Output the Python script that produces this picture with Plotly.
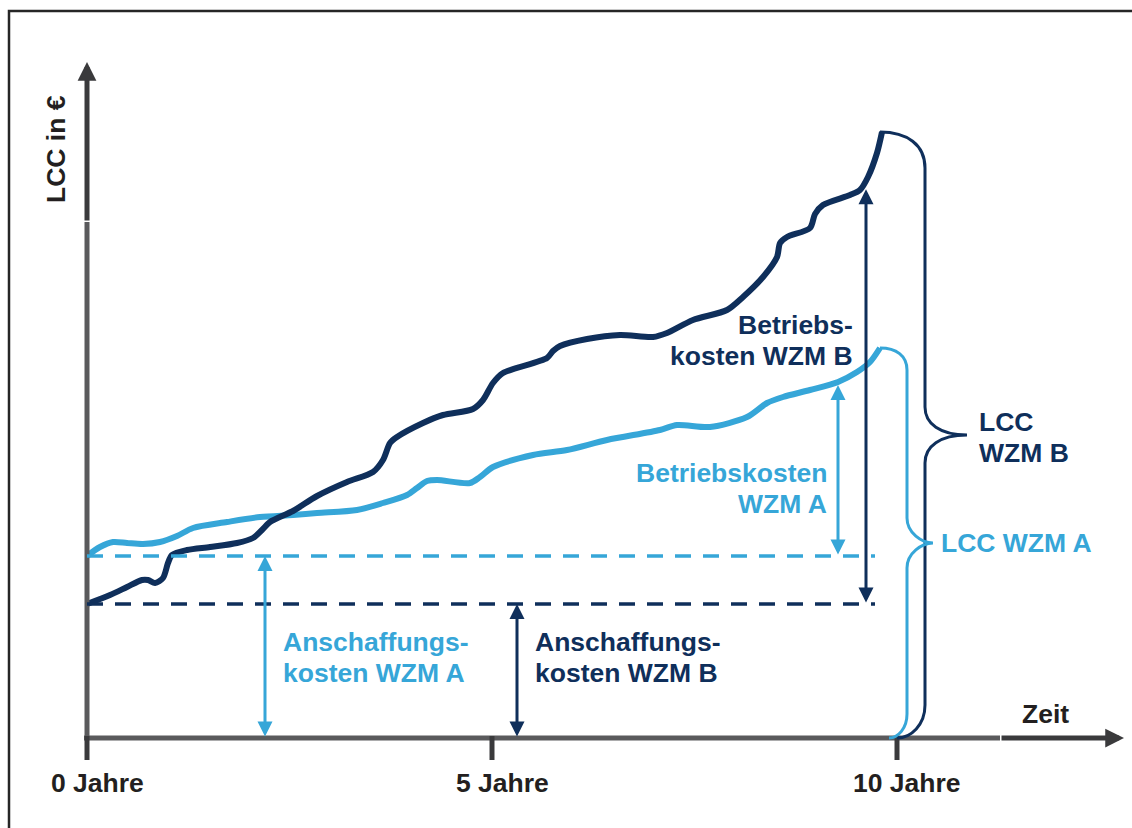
import numpy as np
import plotly.graph_objects as go

# ---- Daten: Zeit in Jahren, LCC in Tsd. € ----
tick_years = [0, 5, 10]
tick_text = ["0 Jahre", "5 Jahre", "10 Jahre"]

acq_a = 18.2   # Anschaffungskosten WZM A
acq_b = 13.4   # Anschaffungskosten WZM B

t_a = [0.000, 0.160, 0.321, 0.494, 0.691, 0.901, 1.111, 1.309, 1.728, 2.136,
       2.543, 2.840, 3.333, 3.654, 3.951, 4.074, 4.198, 4.321, 4.728, 4.852,
       5.012, 5.506, 5.926, 6.420, 7.074, 7.284, 7.691, 8.148, 8.395, 8.593,
       8.926, 9.272, 9.506, 9.667, 9.790]
lcc_a = [18.2, 19.1, 19.6, 19.5, 19.4, 19.6, 20.2, 21.0, 21.6, 22.1,
         22.3, 22.5, 22.8, 23.5, 24.3, 25.0, 25.7, 25.8, 25.5, 26.1,
         27.1, 28.3, 28.8, 29.8, 30.8, 31.3, 31.1, 32.1, 33.5, 34.1,
         34.8, 35.6, 36.6, 37.6, 39.0]

t_b = [0.000, 0.284, 0.494, 0.679, 0.753, 0.840, 0.938, 1.000, 1.049, 1.235,
       1.519, 1.852, 2.049, 2.160, 2.259, 2.543, 2.840, 3.210, 3.531, 3.654,
       3.741, 3.827, 4.148, 4.395, 4.765, 4.889, 5.012, 5.136, 5.679, 5.753,
       5.840, 6.173, 6.580, 6.988, 7.160, 7.481, 7.901, 8.099, 8.346, 8.519,
       8.556, 8.642, 8.926, 8.988, 9.086, 9.420, 9.543, 9.642, 9.753, 9.815]
lcc_b = [13.4, 14.3, 15.1, 15.8, 15.8, 15.5, 16.0, 17.5, 18.3, 18.8,
         19.1, 19.5, 20.0, 20.8, 21.6, 22.7, 24.2, 25.6, 26.6, 27.8,
         29.5, 30.1, 31.5, 32.3, 32.9, 33.8, 35.5, 36.5, 38.0, 38.7,
         39.2, 39.9, 40.3, 40.1, 40.5, 41.8, 42.8, 44.1, 46.1, 48.1,
         49.5, 50.1, 51.0, 52.4, 53.3, 54.3, 54.8, 56.1, 58.5, 60.6]

# ---- Darstellung ----
W, H = 1132, 828
X0_PX, Y0_PX = 87, 738      # Lage des Ursprungs in Pixeln
PX_X, PX_Y = 81.0, 10.0     # Pixel je Jahr / je Tsd. €

NAVY = "#0f2f5b"
BLUE = "#36a6d8"
AXIS_L = "#5a5a5c"
AXIS_D = "#3a3a3c"
INK = "#231f20"
FONT = "Liberation Sans, Arial, sans-serif"
FS = 26.5
LINE_GAP = 31               # Zeilenabstand mehrzeiliger Beschriftungen (px)


def dx(px):
    return px / PX_X


def dy(px):
    return px / PX_Y


def txt(color=NAVY, size=FS):
    return dict(family=FONT, size=size, color=color, weight="bold")


fig = go.Figure()

# Kurvenverläufe
fig.add_trace(go.Scatter(x=t_a, y=lcc_a, mode="lines",
                         line=dict(color=BLUE, width=6, shape="spline", smoothing=0.8),
                         hoverinfo="skip"))
fig.add_trace(go.Scatter(x=t_b, y=lcc_b, mode="lines",
                         line=dict(color=NAVY, width=6, shape="spline", smoothing=0.8),
                         hoverinfo="skip"))

shapes = []
annotations = []

# Rahmen
shapes.append(dict(type="rect", xref="paper", yref="paper",
                   x0=9 / W, x1=1.02, y0=-0.02, y1=1 - 11 / H,
                   line=dict(color="#262626", width=2.5), layer="below"))

# Achsen
y_arrow_base = dy(Y0_PX - 222)
x_arrow_base = dx(1000 - X0_PX)
shapes.append(dict(type="line", x0=0, x1=0, y0=0, y1=y_arrow_base,
                   line=dict(color=AXIS_L, width=5)))
shapes.append(dict(type="line", x0=-dx(3), x1=x_arrow_base, y0=0, y1=0,
                   line=dict(color=AXIS_L, width=5)))
annotations.append(dict(x=0, y=dy(Y0_PX - 62), ax=0, ay=y_arrow_base,
                        xref="x", yref="y", axref="x", ayref="y", text="",
                        showarrow=True, arrowhead=2, arrowsize=0.75, arrowwidth=5,
                        arrowcolor=AXIS_D))
annotations.append(dict(x=dx(1124 - X0_PX), y=0, ax=x_arrow_base, ay=0,
                        xref="x", yref="y", axref="x", ayref="y", text="",
                        showarrow=True, arrowhead=2, arrowsize=0.75, arrowwidth=5,
                        arrowcolor=AXIS_D))

# Teilstriche und Beschriftung
for yr, lab in zip(tick_years, tick_text):
    shapes.append(dict(type="line", x0=yr, x1=yr, y0=dy(2), y1=-dy(22),
                       line=dict(color=AXIS_D, width=5)))
    annotations.append(dict(x=yr + dx(10), y=-dy(45), xref="x", yref="y",
                            text=lab, showarrow=False, font=txt(INK),
                            xanchor="center", yanchor="middle"))

annotations.append(dict(x=dx(1020 - X0_PX), y=dy(Y0_PX - 714), xref="x", yref="y",
                        text="Zeit", showarrow=False, font=txt(INK),
                        xanchor="left", yanchor="middle"))
annotations.append(dict(x=-dx(31), y=dy(Y0_PX - 149), xref="x", yref="y",
                        text="LCC in €", textangle=-90, showarrow=False,
                        font=txt(INK), xanchor="center", yanchor="middle"))

# Gestrichelte Linien der Anschaffungskosten
x_dash_end = dx(875 - X0_PX)
for val, col in ((acq_a, BLUE), (acq_b, NAVY)):
    shapes.append(dict(type="line", x0=0, x1=x_dash_end, y0=val, y1=val,
                       line=dict(color=col, width=3.5, dash="16px,12px")))


def double_arrow(x, y0, y1, col):
    annotations.append(dict(x=x, y=y1, ax=x, ay=y0, xref="x", yref="y",
                            axref="x", ayref="y", text="", showarrow=True,
                            arrowside="end+start", arrowhead=2, startarrowhead=2,
                            arrowsize=1.0, startarrowsize=1.0, arrowwidth=3,
                            arrowcolor=col))


# Anschaffungskosten
x_acq_a = dx(265 - X0_PX)
x_acq_b = dx(517 - X0_PX)
double_arrow(x_acq_a, 0, acq_a, BLUE)
double_arrow(x_acq_b, 0, acq_b, NAVY)

# Betriebskosten (bis zur jeweiligen Kurve)
x_op_a = dx(838 - X0_PX)
x_op_b = dx(866 - X0_PX)
double_arrow(x_op_a, acq_a, float(np.interp(x_op_a, t_a, lcc_a)) - dy(3), BLUE)
double_arrow(x_op_b, acq_b, float(np.interp(x_op_b, t_b, lcc_b)) - dy(9), NAVY)


def brace(x_top, top, x_bar, x_tip, x_bot, r_top, r_mid, r_bot):
    mid = top / 2.0
    return (
        f"M {x_top},{top} "
        f"C {x_top + 0.6 * (x_bar - x_top)},{top} {x_bar},{top - dy(r_top * 0.35)} {x_bar},{top - dy(r_top)} "
        f"L {x_bar},{mid + dy(r_mid)} "
        f"C {x_bar},{mid + dy(r_mid * 0.4)} {x_bar + dx(15)},{mid} {x_tip},{mid} "
        f"C {x_bar + dx(15)},{mid} {x_bar},{mid - dy(r_mid * 0.4)} {x_bar},{mid - dy(r_mid)} "
        f"L {x_bar},{dy(r_bot)} "
        f"C {x_bar},{dy(r_bot * 0.4)} {x_bot + 0.5 * (x_bar - x_bot)},0 {x_bot},0"
    )


shapes.append(dict(type="path", xref="x", yref="y",
                   path=brace(t_b[-1] - dx(2), lcc_b[-1], dx(925 - X0_PX), dx(967 - X0_PX),
                              10.0, 36, 28, 33),
                   line=dict(color=NAVY, width=3)))
shapes.append(dict(type="path", xref="x", yref="y",
                   path=brace(t_a[-1], lcc_a[-1], dx(907 - X0_PX), dx(933 - X0_PX),
                              dx(889 - X0_PX), 22, 25, 24),
                   line=dict(color=BLUE, width=3)))


# Beschriftungen (eine Annotation je Zeile, fester Zeilenabstand)
def label(lines, x, y_center, col, anchor):
    n = len(lines)
    for i, line in enumerate(lines):
        off = (i - (n - 1) / 2.0) * LINE_GAP
        annotations.append(dict(x=x, y=y_center - dy(off), xref="x", yref="y",
                                text=line, showarrow=False, font=txt(col),
                                xanchor=anchor, yanchor="middle"))


label(["Betriebs-", "kosten WZM B"], dx(855 - X0_PX), dy(Y0_PX - 340), NAVY, "right")
label(["Betriebskosten", "WZM A"], dx(829 - X0_PX), dy(Y0_PX - 488), BLUE, "right")
label(["Anschaffungs-", "kosten WZM A"], x_acq_a + dx(16), dy(Y0_PX - 657), BLUE, "left")
label(["Anschaffungs-", "kosten WZM B"], x_acq_b + dx(16), dy(Y0_PX - 657), NAVY, "left")
label(["LCC", "WZM B"], dx(977 - X0_PX), dy(Y0_PX - 437), NAVY, "left")
label(["LCC WZM A"], dx(939 - X0_PX), dy(Y0_PX - 543), BLUE, "left")

fig.update_layout(
    width=W, height=H, autosize=False,
    margin=dict(l=0, r=0, t=0, b=0, pad=0),
    paper_bgcolor="white", plot_bgcolor="white",
    showlegend=False,
    xaxis=dict(range=[-X0_PX / PX_X, (W - X0_PX) / PX_X], visible=False, fixedrange=True),
    yaxis=dict(range=[-(H - Y0_PX) / PX_Y, Y0_PX / PX_Y], visible=False, fixedrange=True),
    shapes=shapes,
    annotations=annotations,
)

fig.write_html("out.html")
